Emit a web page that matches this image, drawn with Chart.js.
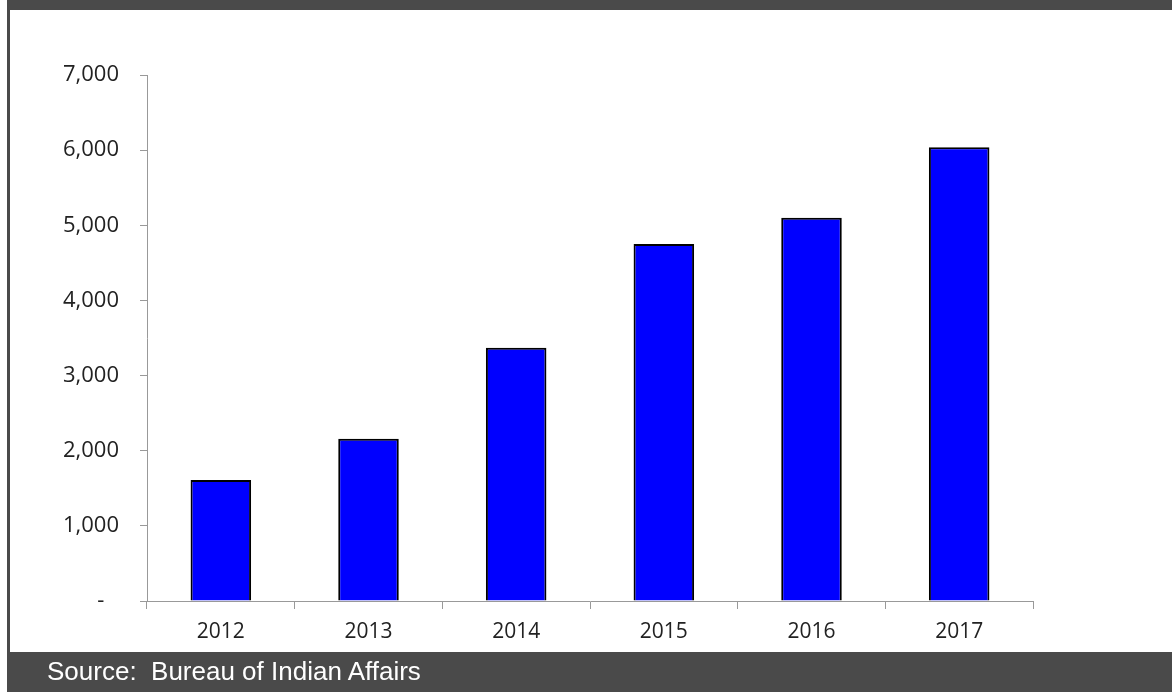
<!DOCTYPE html>
<html>
<head>
<meta charset="utf-8">
<script src="https://cdn.jsdelivr.net/npm/chart.js@4/dist/chart.umd.min.js"></script>
<style>
  html, body { margin: 0; padding: 0; }
  body { width: 1172px; height: 692px; background: #fff; position: relative; overflow: hidden; }
  #frame { position: absolute; left: 7px; top: 0; width: 1165px; height: 692px; background: #4a4a4a; }
  #panel { position: absolute; left: 10px; top: 10px; width: 1162px; height: 642px; background: #fff; }
  #wrap { position: absolute; left: 0; top: 0; width: 1172px; height: 692px; }
  #source { position: absolute; left: 47px; top: 656px; color: #fff; font-family: "Liberation Sans", Arial, sans-serif; font-size: 26px; white-space: pre; }
</style>
</head>
<body>
<div id="frame"></div>
<div id="panel"></div>
<div id="wrap"><canvas id="chart" width="1172" height="692"></canvas></div>
<div id="source">Source:  Bureau of Indian Affairs</div>
<script>
var years = ['2012', '2013', '2014', '2015', '2016', '2017'];
var employees = [1610, 2160, 3370, 4750, 5100, 6040];
var yTicks = [0, 1000, 2000, 3000, 4000, 5000, 6000, 7000];

var ctx = document.getElementById('chart').getContext('2d');
var chart = new Chart(ctx, {
    type: 'bar',
    data: {
        labels: years,
        datasets: [{
            data: employees,
            backgroundColor: '#0000ff',
            borderColor: '#000000',
            borderWidth: 2,
            categoryPercentage: 1,
            barPercentage: 0.41
        }]
    },
    options: {
        responsive: false,
        animation: false,
        layout: { padding: { left: 0, right: 139, top: 75, bottom: 0 } },
        plugins: { legend: { display: false }, tooltip: { enabled: false } },
        scales: {
            x: {
                afterFit: function (scale) { scale.height = 91; },
                grid: { drawOnChartArea: false, color: '#999', tickLength: 8, offset: true },
                border: { color: '#999', width: 1 },
                ticks: { color: '#222', padding: 10, maxRotation: 0, font: { family: 'Open Sans', size: 21 } }
            },
            y: {
                min: 0,
                max: 7000,
                afterFit: function (scale) { scale.width = 147; },
                afterBuildTicks: function (scale) {
                    scale.ticks = yTicks.map(function (v) { return { value: v }; });
                },
                grid: { drawOnChartArea: false, color: '#999', tickLength: 7 },
                border: { color: '#999', width: 1 },
                ticks: {
                    color: '#222',
                    padding: 21,
                    font: { family: 'Open Sans', size: 22 },
                    callback: function (v) { return v === 0 ? '-\u2002\u2009' : v.toLocaleString('en-US'); }
                }
            }
        }
    }
});
</script>
</body>
</html>
